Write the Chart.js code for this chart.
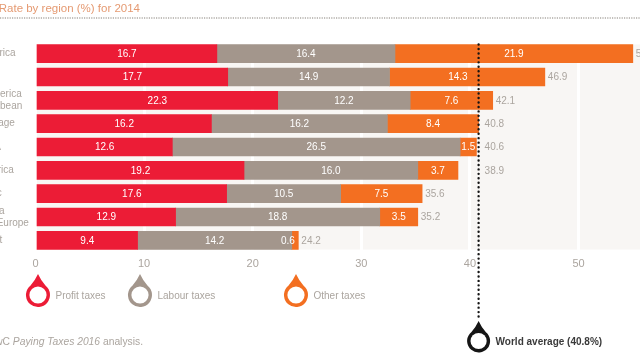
<!DOCTYPE html>
<html><head><meta charset="utf-8">
<script src="https://cdn.jsdelivr.net/npm/chart.js@4"></script>
<style>
html,body{margin:0;padding:0;width:640px;height:360px;overflow:hidden;background:#fff}
#wrap{position:absolute;left:0;top:0;width:640px;height:360px;overflow:hidden}
#c{position:absolute;left:-60px;top:0}
</style></head><body>
<div id="wrap"><canvas id="c" width="752" height="360"></canvas></div>
<script>
const categories=[["South America"],["Africa"],["Central America","& the Caribbean"],["World average"],["EU & EFTA"],["North America"],["Asia Pacific"],["Central Asia","& Eastern Europe"],["Middle East"]];
const profitTaxes=[16.7,17.7,22.3,16.2,12.6,19.2,17.6,12.9,9.4];
const labourTaxes=[16.4,14.9,12.2,16.2,26.5,16.0,10.5,18.8,14.2];
const otherTaxes=[21.9,14.3,7.6,8.4,1.5,3.7,7.5,3.5,0.6];
const totals=[55.0,46.9,42.1,40.8,40.6,38.9,35.6,35.2,24.2];
const worldAverage=40.8;
const titleText="Total Tax Rate by region (%) for 2014";
const RED="#ec1c36",GREY="#a3968c",ORANGE="#f36f21",BLACK="#151515";
const FONT="'Liberation Sans',Arimo,Arial,sans-serif";
const OX=60; // hidden strip on the left of the canvas

function drop(ctx,cx,cy,r,lw,color){
  const tip=r*1.75,a=Math.PI*0.28;
  ctx.save();ctx.fillStyle=color;
  ctx.beginPath();
  ctx.moveTo(cx,cy-tip);
  ctx.quadraticCurveTo(cx+r*0.25,cy-r*1.2,cx+r*Math.cos(a),cy-r*Math.sin(a));
  ctx.arc(cx,cy,r,-a,Math.PI+a);
  ctx.quadraticCurveTo(cx-r*0.25,cy-r*1.2,cx,cy-tip);
  ctx.closePath();ctx.fill();
  ctx.fillStyle="#fff";ctx.beginPath();ctx.arc(cx,cy,r-lw,0,Math.PI*2);ctx.fill();
  ctx.restore();
}
const decor={
  id:"decor",
  beforeDraw(chart){
    const {ctx,chartArea:a}=chart;
    ctx.save();
    ctx.fillStyle="#f8f6f4";
    ctx.fillRect(a.left-0.5,a.top+2.5,chart.width,a.bottom-a.top-5);
    ctx.fillStyle="#e59a72";ctx.font="11.5px "+FONT;ctx.textAlign="right";ctx.textBaseline="middle";
    ctx.fillText(titleText,OX+140,9);
    ctx.strokeStyle="#aeaaa5";ctx.lineWidth=1.5;ctx.setLineDash([1.2,1.2]);
    ctx.beginPath();ctx.moveTo(0,18);ctx.lineTo(chart.width,18);ctx.stroke();
    ctx.restore();
  },
  afterDatasetsDraw(chart){
    const {ctx,scales:{x,y}}=chart;
    const lineX=x.getPixelForValue(worldAverage);
    ctx.save();
    ctx.font="10px "+FONT;ctx.textBaseline="middle";ctx.textAlign="center";
    chart.data.datasets.forEach((ds,di)=>{
      const m=chart.getDatasetMeta(di);
      m.data.forEach((b,i)=>{
        const t=ds.data[i].toFixed(1),w=ctx.measureText(t).width,left=Math.min(b.x,b.base),seg=Math.abs(b.x-b.base);
        let cx=(b.x+b.base)/2;
        if(seg<w) cx=left+3-w/2;
        else if(seg>2*w && cx<lineX && cx+w/2>lineX-11) cx=lineX-11-w/2;
        ctx.fillStyle="#fff";ctx.fillText(t,cx,b.y+0.5);
      });
    });
    const last=chart.getDatasetMeta(2);
    ctx.textAlign="left";ctx.fillStyle="#aba59f";
    last.data.forEach((b,i)=>{
      const t=totals[i].toFixed(1),w=ctx.measureText(t).width;
      let sx=b.x+3;
      if(sx<lineX+6 && sx+w>lineX-3) sx=lineX+6;
      ctx.fillText(t,sx,b.y+0.5);
    });
    ctx.strokeStyle=BLACK;ctx.lineWidth=2.4;ctx.lineCap="round";ctx.setLineDash([0.01,4.45]);
    ctx.beginPath();ctx.moveTo(lineX,44.5);ctx.lineTo(lineX,318);ctx.stroke();
    ctx.setLineDash([]);
    const ly=295;
    [["Profit taxes",38,RED],["Labour taxes",140,GREY],["Other taxes",296,ORANGE]].forEach(([t,cx,col])=>{
      drop(ctx,OX+cx,ly,12,3.4,col);
      ctx.fillStyle="#aba59f";ctx.font="10px "+FONT;ctx.textAlign="left";ctx.fillText(t,OX+cx+17.5,ly+1.5);
    });
    drop(ctx,lineX,341,11.5,3.4,BLACK);
    ctx.fillStyle="#3a3a3a";ctx.font="bold 10px "+FONT;ctx.fillText("World average ("+worldAverage+"%)",lineX+17,342);
    ctx.fillStyle="#aba59f";ctx.textAlign="left";
    const y0=342,fs="10.3px ";
    const parts=[["Source: Pw",""],["C ",""],["Paying Taxes 2016","italic "],[" analysis.",""]];
    let tw=0;parts.forEach(p=>{ctx.font=p[1]+fs+FONT;tw+=ctx.measureText(p[0]).width;});
    let px=OX+143-tw;
    parts.forEach(p=>{ctx.font=p[1]+fs+FONT;ctx.fillText(p[0],px,y0);px+=ctx.measureText(p[0]).width;});
    ctx.restore();
  }
};
new Chart(document.getElementById("c"),{
  type:"bar",
  data:{labels:categories,datasets:[
    {label:"Profit taxes",data:profitTaxes,backgroundColor:RED},
    {label:"Labour taxes",data:labourTaxes,backgroundColor:GREY},
    {label:"Other taxes",data:otherTaxes,backgroundColor:ORANGE}
  ]},
  options:{
    indexAxis:"y",responsive:false,animation:false,
    layout:{padding:{left:10,right:26.6,top:42,bottom:0}},
    datasets:{bar:{barThickness:18,borderWidth:0}},
    plugins:{legend:{display:false},tooltip:{enabled:false}},
    scales:{
      x:{stacked:true,min:0,max:58,
        ticks:{stepSize:10,padding:5,color:"#aba59f",font:{family:FONT,size:11},maxRotation:0},
        grid:{color:"#fff",lineWidth:3,drawTicks:false},border:{display:false},
        afterFit(s){s.height=108;}},
      y:{stacked:true,
        ticks:{autoSkip:false,crossAlign:"far",color:"#aba59f",font:{family:FONT,size:10,lineHeight:1.2},padding:0},
        grid:{display:false},border:{display:false},
        afterFit(s){s.width=85.5;}}
    }
  },
  plugins:[decor]
});
</script>
</body></html>
